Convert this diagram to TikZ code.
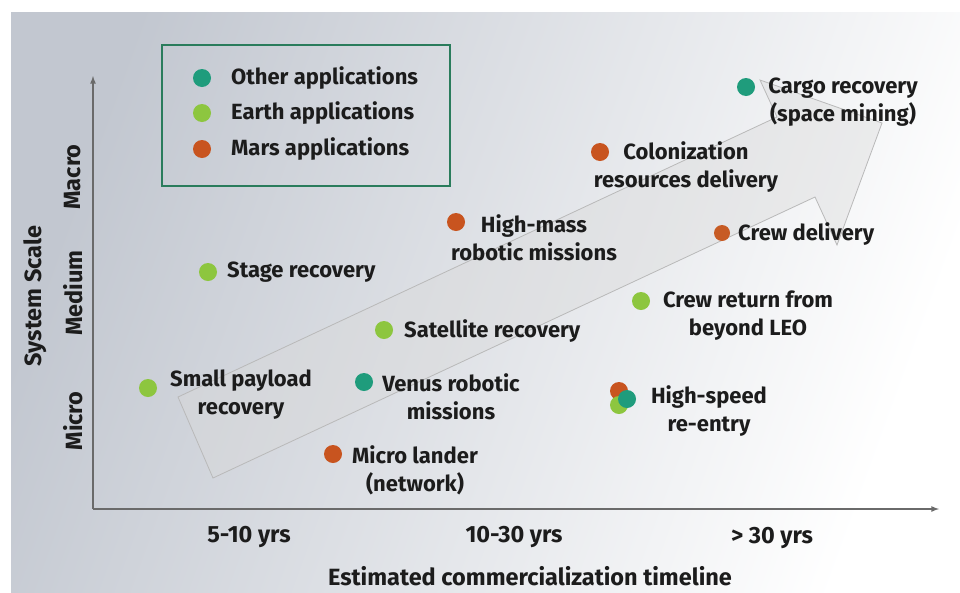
\documentclass[tikz,border=0pt]{standalone}
\usepackage{fontspec}
\setmainfont{Fira Sans}
\definecolor{othc}{HTML}{1F9C7C}
\definecolor{earthc}{HTML}{8DC63F}
\definecolor{marsc}{HTML}{C8541F}
\definecolor{boxc}{HTML}{2A7C5C}
\definecolor{txt}{HTML}{1C1C1C}
\definecolor{axc}{HTML}{6A6A6A}
\definecolor{bgl}{HTML}{C2C7D0}
\begin{document}
\begin{tikzpicture}[x=1pt,y=-1pt,
	dot/.style={circle,inner sep=0pt,minimum size=18pt},
	lbl/.style={font=\bfseries\fontsize{22}{28}\selectfont,text=txt,align=center,inner sep=0pt},
	axlbl/.style={font=\bfseries\fontsize{23.5}{26}\selectfont,text=txt,inner sep=0pt}]
	\useasboundingbox (0,0) rectangle (960,592);
	\fill[white] (0,0) rectangle (960,592);
	\shade[left color=bgl, right color=white, shading angle=70] (11,12) rectangle (960,592);
	% trend arrow
	\filldraw[fill=gray!30, fill opacity=0.4, draw=gray!55, line width=0.8pt]
		(178,397) -- (777,117) -- (760,80) -- (882,123) -- (837,245) -- (815,197) -- (213,478) -- cycle;
	% axes
	\coordinate (O) at (93,509);
	\coordinate (Ytop) at (93,76);
	\coordinate (Xend) at (939,509);
	\draw[-latex, axc, line width=1.6pt] (O) -- (Ytop);
	\draw[-latex, axc, line width=1.6pt] (O) -- (Xend);
	\node[axlbl, rotate=90] (macro) at (73,177) {Macro};
	\node[axlbl, rotate=90] (medium) at (73,293) {Medium};
	\node[axlbl, rotate=90] (micro) at (73,421) {Micro};
	\node[axlbl, rotate=90] (scale) at (35,296) {System Scale};
	\node[axlbl] (t1) at (249,537) {5-10 yrs};
	\node[axlbl] (t2) at (514,537) {10-30 yrs};
	\node[axlbl] (t3) at (772,538) {> 30 yrs};
	\node[axlbl] (timeline) at (530,576) {Estimated commercialization timeline};
	% legend
	\node[draw=boxc, line width=2.4pt, minimum width=288pt, minimum height=141pt, inner sep=0pt] (legend) at (306,115.5) {};
	\node[dot, fill=othc] (lo) at (202,78) {};
	\node[dot, fill=earthc] (le) at (202,113) {};
	\node[dot, fill=marsc] (lm) at (202,149) {};
	\node[lbl, anchor=west] (lot) at (231,78) {Other applications};
	\node[lbl, anchor=west] (let) at (231,113) {Earth applications};
	\node[lbl, anchor=west] (lmt) at (231,149) {Mars applications};
	% applications
	\node[dot, fill=othc] (cargo) at (746,87) {};
	\node[lbl] (cargo-l) at (843,102) {Cargo recovery\\(space mining)};
	\node[dot, fill=marsc] (colon) at (600,152) {};
	\node[lbl] (colon-l) at (686,167) {Colonization\\resources delivery};
	\node[dot, fill=marsc] (hmass) at (456,222) {};
	\node[lbl] (hmass-l) at (534,238) {High-mass\\robotic missions};
	\node[dot, fill=marsc!85!brown, minimum size=16pt] (crewd) at (722,233) {};
	\node[lbl, anchor=west] (crewd-l) at (738,234) {Crew delivery};
	\node[dot, fill=earthc] (stage) at (208,272) {};
	\node[lbl, anchor=west] (stage-l) at (227,272) {Stage recovery};
	\node[dot, fill=earthc] (crewr) at (641,301) {};
	\node[lbl] (crewr-l) at (748,316) {Crew return from\\beyond LEO};
	\node[dot, fill=earthc] (sat) at (384,330) {};
	\node[lbl, anchor=west] (sat-l) at (404,331) {Satellite recovery};
	\node[dot, fill=earthc] (small) at (148,388) {};
	\node[lbl] (small-l) at (241,395) {Small payload\\recovery};
	\node[dot, fill=othc] (venus) at (364,382) {};
	\node[lbl] (venus-l) at (451,397) {Venus robotic\\missions};
	\node[dot, fill=marsc] (hs1) at (619,391) {};
	\node[dot, fill=earthc] (hs2) at (619,405) {};
	\node[dot, fill=othc] (hs3) at (627,399) {};
	\node[lbl] (hs-l) at (709,411) {High-speed\\re-entry};
	\node[dot, fill=marsc] (mlander) at (333,454) {};
	\node[lbl] (mlander-l) at (415,470) {Micro lander\\(network)};
\end{tikzpicture}
\end{document}
